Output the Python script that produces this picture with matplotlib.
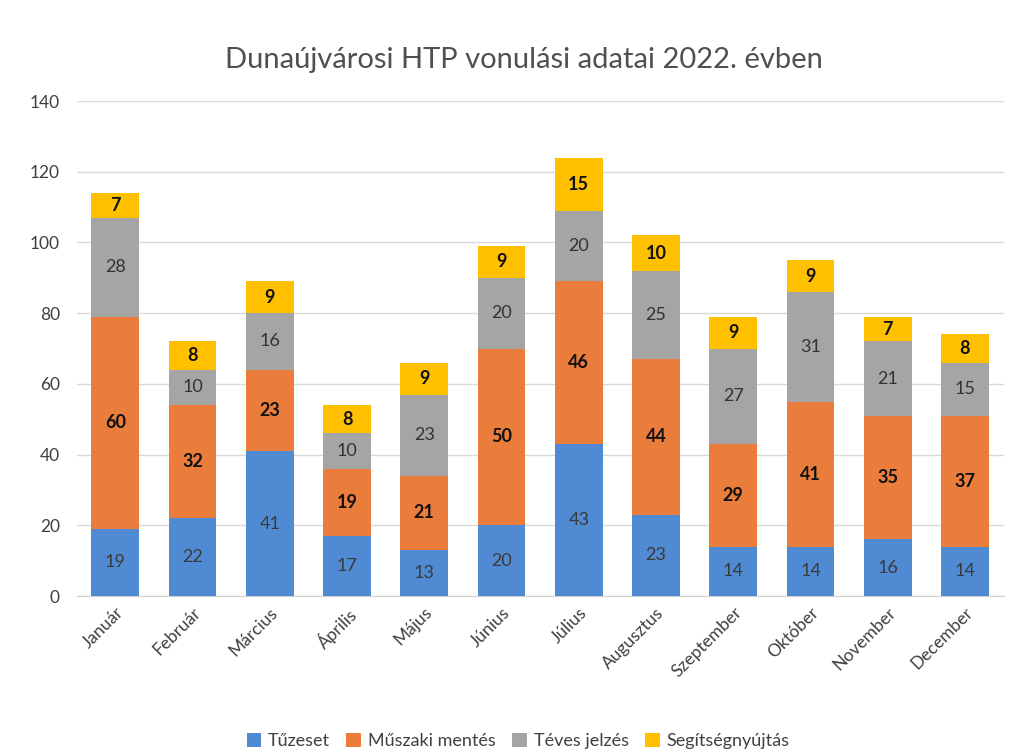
import matplotlib.pyplot as plt
import numpy as np

months = ["Január", "Február", "Március", "Április", "Május", "Június",
          "Július", "Augusztus", "Szeptember", "Október", "November", "December"]
tuzeset = [19, 22, 41, 17, 13, 20, 43, 23, 14, 14, 16, 14]
muszaki = [60, 32, 23, 19, 21, 50, 46, 44, 29, 41, 35, 37]
teves = [28, 10, 16, 10, 23, 20, 20, 25, 27, 31, 21, 15]
segitseg = [7, 8, 9, 8, 9, 9, 15, 10, 9, 9, 7, 8]

series = [
    ("Tűzeset", tuzeset, "#4F8AD2", "#3a3a3a", "normal"),
    ("Műszaki mentés", muszaki, "#EB7D3C", "#111111", "bold"),
    ("Téves jelzés", teves, "#A5A5A5", "#333333", "normal"),
    ("Segítségnyújtás", segitseg, "#FFC000", "#111111", "bold"),
]

plt.rcParams['font.family'] = ['Lato', 'DejaVu Sans']

fig = plt.figure(figsize=(10.22, 7.54), dpi=100)
ax = fig.add_axes([0.075, 0.2095, 0.907, 0.6565])

x = np.arange(len(months))
bottom = np.zeros(len(months))
for name, vals, color, tcolor, weight in series:
    vals = np.array(vals)
    bars = ax.bar(x, vals, 0.62, bottom=bottom, color=color, label=name, zorder=3)
    ax.bar_label(bars, labels=[str(v) for v in vals], label_type='center',
                 color=tcolor, fontsize=13, fontweight=weight)
    bottom += vals

ax.set_xlim(-0.5, len(months) - 0.5)
ax.set_ylim(0, 140)
ax.set_yticks(range(0, 141, 20))
ax.set_xticks(x)
ax.set_xticklabels(months, rotation=45, ha='right', rotation_mode='anchor', fontsize=12.5, color='#404040')
ax.tick_params(axis='y', labelsize=12.5, labelcolor='#404040', length=0, pad=12)
ax.tick_params(axis='x', length=0, pad=6)
ax.grid(axis='y', color='#d9d9d9', linewidth=1, zorder=0)
for s in ['top', 'right', 'left']:
    ax.spines[s].set_visible(False)
ax.spines['bottom'].set_color('#d0d0d0')

fig.text(0.513, 0.92, "Dunaújvárosi HTP vonulási adatai 2022. évben",
         ha='center', va='center', fontsize=21, color='#505050')

fig.legend(loc='center', bbox_to_anchor=(0.507, 0.017), ncol=4, frameon=False,
           fontsize=13, handlelength=0.8, handleheight=0.8, columnspacing=0.9,
           handletextpad=0.4, labelcolor='#404040')

fig.savefig("out.png", dpi=100)
